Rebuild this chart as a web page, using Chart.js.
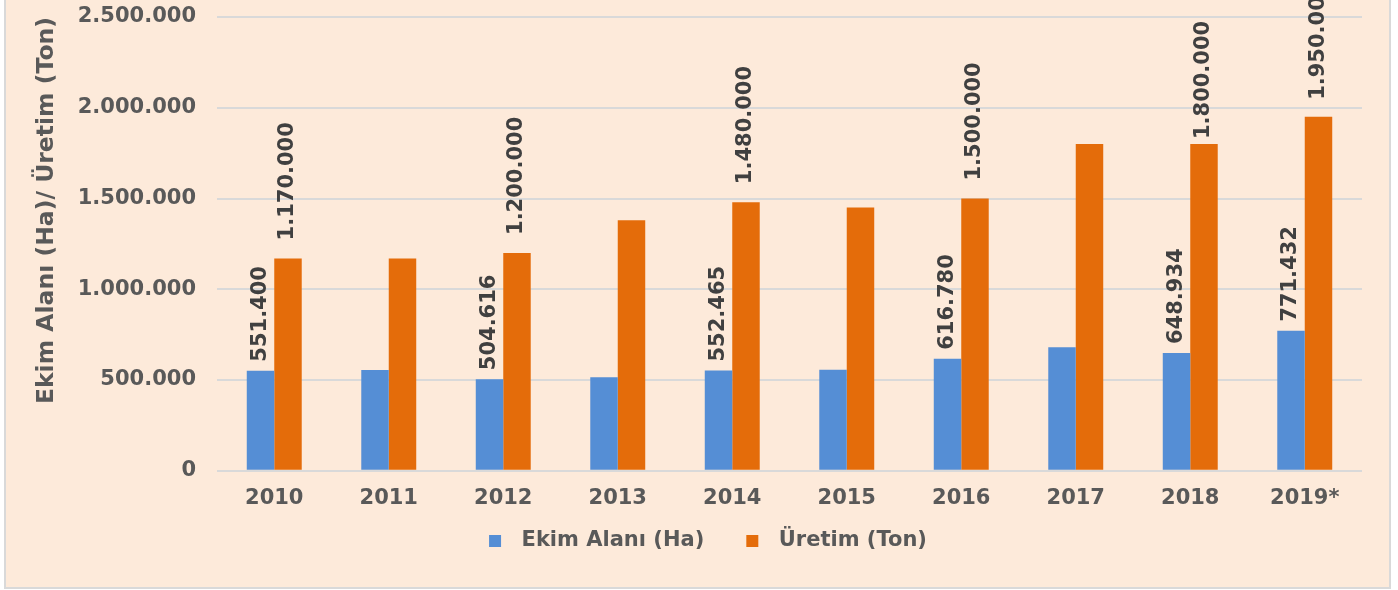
<!DOCTYPE html>
<html>
<head>
<meta charset="utf-8">
<script src="https://cdn.jsdelivr.net/npm/chart.js@4.4.1/dist/chart.umd.min.js"></script>
<style>
  html, body { margin: 0; padding: 0; background: #ffffff; }
  body { width: 1398px; height: 590px; overflow: hidden; position: relative; }
  .frame {
    position: absolute; left: 4px; top: -2px; width: 1383px; height: 587px;
    background: #FDEADA; border: 2px solid #D9D9D9;
  }
  .frame canvas { display: block; }
</style>
</head>
<body>
<div class="frame"><canvas id="grafico" width="1383" height="587"></canvas></div>
<script>
// yillar ve seriler
const years = ["2010", "2011", "2012", "2013", "2014", "2015", "2016", "2017", "2018", "2019*"];
const ekimAlani = [551400, 555000, 504616, 515000, 552465, 557000, 616780, 680000, 648934, 771432];
const uretim = [1170000, 1170000, 1200000, 1380000, 1480000, 1450000, 1500000, 1800000, 1800000, 1950000];
// etiket gosterilen noktalar (null = etiket yok)
const ekimEtiket = [551400, null, 504616, null, 552465, null, 616780, null, 648934, 771432];
const uretimEtiket = [1170000, null, 1200000, null, 1480000, null, 1500000, null, 1800000, 1950000];
const yTicks = [0, 500000, 1000000, 1500000, 2000000, 2500000];

const FONT = "'DejaVu Sans', Verdana, sans-serif";
const MAVI = "#558ED5";
const TURUNCU = "#E46C0A";

// 1234567 -> "1.234.567"
const fmt = v => String(Math.round(v)).replace(/\B(?=(\d{3})+(?!\d))/g, ".");

// lejant kutusu: solda bosluk, 12px kare, sagda bosluk (Excel araligi icin)
const LEJ_W = 60;
function lejantKutu(renk) {
  const c = document.createElement("canvas");
  c.width = LEJ_W; c.height = 12;
  const g = c.getContext("2d");
  g.fillStyle = renk;
  g.fillRect(LEJ_W - 22, 0, 12, 12);
  return c;
}
const lejantKutulari = [lejantKutu(MAVI), lejantKutu(TURUNCU)];

// bar ustune dikey etiket
const dikeyEtiket = {
  id: "dikeyEtiket",
  afterDatasetsDraw(chart, args, opts) {
    const ctx = chart.ctx;
    chart.data.datasets.forEach((ds, di) => {
      const meta = chart.getDatasetMeta(di);
      const labels = ds.etiketler || [];
      const gaps = opts.gaps[di];
      meta.data.forEach((bar, i) => {
        const v = labels[i];
        if (v == null) return;
        const gap = Array.isArray(gaps) ? gaps[i] : gaps;
        ctx.save();
        ctx.translate(bar.x, bar.y - gap);
        ctx.rotate(-Math.PI / 2);
        ctx.font = `bold 21px ${FONT}`;
        ctx.fillStyle = "#404040";
        ctx.textAlign = "left";
        ctx.textBaseline = "middle";
        ctx.fillText(fmt(v), 0, 0);
        ctx.restore();
      });
    });
  }
};

const ctx = document.getElementById("grafico").getContext("2d");
new Chart(ctx, {
  type: "bar",
  data: {
    labels: years,
    datasets: [
      { label: "Ekim Alanı (Ha)", data: ekimAlani, etiketler: ekimEtiket,
        backgroundColor: MAVI, borderWidth: 0,
        categoryPercentage: 0.48, barPercentage: 1.0 },
      { label: "Üretim (Ton)", data: uretim, etiketler: uretimEtiket,
        backgroundColor: TURUNCU, borderWidth: 0,
        categoryPercentage: 0.48, barPercentage: 1.0 }
    ]
  },
  options: {
    responsive: false,
    animation: false,
    layout: { padding: { left: 10, right: 27, top: 17, bottom: 26 } },
    plugins: {
      tooltip: { enabled: false },
      legend: {
        position: "bottom",
        labels: {
          color: "#595959",
          font: { family: FONT, size: 21, weight: "bold" },
          usePointStyle: true, pointStyleWidth: LEJ_W, boxHeight: 12, padding: 4,
          generateLabels: chart => {
            const items = Chart.defaults.plugins.legend.labels.generateLabels(chart);
            items.forEach(it => { it.pointStyle = lejantKutulari[it.datasetIndex]; });
            return items;
          }
        }
      },
      dikeyEtiket: { gaps: [9, [18, 18, 18, 18, 18, 18, 18, 18, 5, 17]] }
    },
    scales: {
      x: {
        grid: { display: false, drawTicks: false },
        border: { display: false },
        ticks: {
          color: "#595959", padding: 15,
          font: { family: FONT, size: 21, weight: "bold" }
        }
      },
      y: {
        min: 0, max: 2500000,
        afterBuildTicks: s => { s.ticks = yTicks.map(v => ({ value: v })); },
        afterFit: s => { s.width = 201; s.paddingTop = 0; s.paddingBottom = 0; },
        grid: { color: "#D9D9D9", lineWidth: 2, drawTicks: false },
        border: { display: false },
        ticks: {
          color: "#595959", padding: 21,
          font: { family: FONT, size: 21, weight: "bold" },
          callback: v => fmt(v)
        },
        title: {
          display: true, align: "end",
          text: "Ekim Alanı (Ha)/ Üretim (Ton)",
          color: "#595959",
          font: { family: FONT, size: 23.5, weight: "bold" },
          padding: { top: 17, bottom: 0 }
        }
      }
    }
  },
  plugins: [dikeyEtiket]
});
</script>
</body>
</html>
